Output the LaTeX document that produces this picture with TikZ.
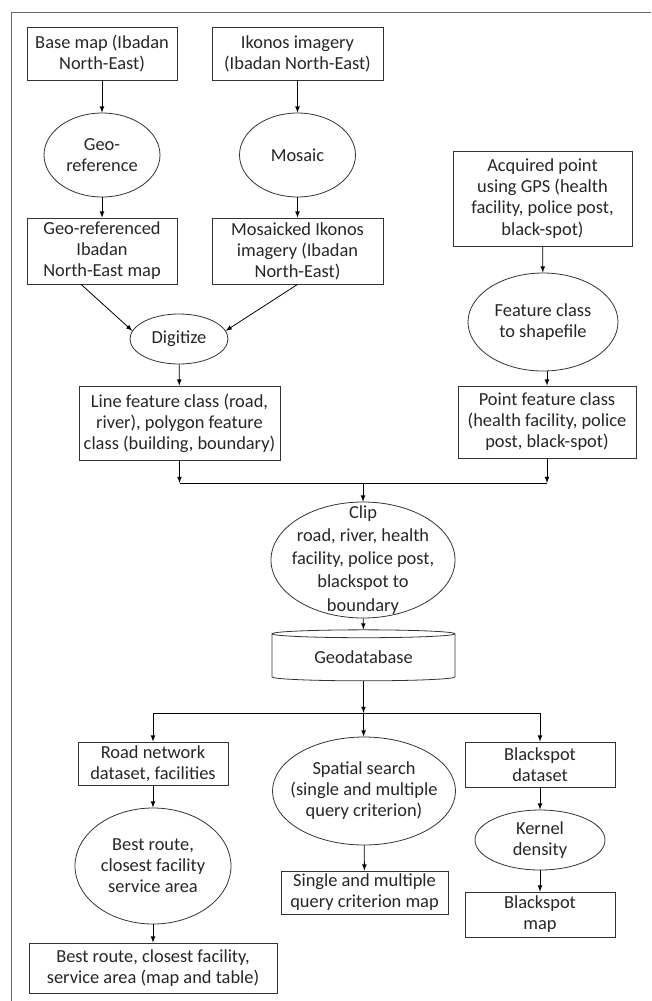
\documentclass[tikz,border=0pt]{standalone}
\usepackage{fontspec}
\setmainfont{Carlito}
\usepackage{tikz}
\usetikzlibrary{shapes.geometric}
\tikzset{>=latex}
\tikzset{sz/.style 2 args={minimum width=#1*0.75pt, minimum height=#2*0.75pt}}
\colorlet{myline}{black!80}
\colorlet{myframe}{black!60}

\begin{document}
\begin{tikzpicture}[
	x=0.75pt, y=-0.75pt,
	line width=0.6pt,
	every node/.style={font=\fontsize{13.8}{15.8}\selectfont, text=black!85},
	box/.style={draw=myline, inner sep=0pt, align=center},
	oval/.style={ellipse, draw=myline, inner sep=-40pt, align=center},
	dbase/.style={cylinder, shape border rotate=90, aspect=0.08, draw=myline, inner sep=0pt}
]
	\useasboundingbox (0,0) rectangle (651,1001);
	\draw[myframe] (11.7,1001) -- (11.7,12.5) -- (651,12.5);

	% digitizing branch
	\node[box, sz={150}{53}] (base) at (102,53.5) {Base map (Ibadan\\North-East)};
	\node[box, sz={171}{53}] (ikonos) at (297.5,53.5) {Ikonos imagery\\(Ibadan North-East)};
	\node[oval, sz={116}{84}] (georef) at (102,155) {Geo-\\reference};
	\node[oval, sz={116}{84}] (mosaic) at (297.5,155) {Mosaic};
	\node[box, sz={150}{66}] (georefmap) at (102,251) {Geo-referenced\\Ibadan\\North-East map};
	\node[box, sz={171}{66}] (mosaicmap) at (297.5,251) {Mosaicked Ikonos\\imagery (Ibadan\\North-East)};
	\node[oval, sz={98}{50}] (digitize) at (179,339) {Digitize};
	\node[box, sz={201}{74}] (lines) at (179.5,423) {Line feature class (road,\\river), polygon feature\\class (building, boundary)};

	% GPS branch
	\node[box, sz={179}{95}] (gps) at (542.5,198.5) {Acquired point\\using GPS (health\\facility, police post,\\black-spot)};
	\node[oval, sz={150}{98}] (shapefile) at (543,322) {Feature class\\to shapefile};
	\node[box, sz={178}{72}] (points) at (547,422) {Point feature class\\(health facility, police\\post, black-spot)};

	% clip and store
	\coordinate (join) at (363,483);
	\node[oval, sz={184}{116}, font=\fontsize{13.8}{17.3}\selectfont] (clip) at (363,560) {Clip\\road, river, health\\facility, police post,\\blackspot to\\boundary};
	\node[dbase, sz={183}{51}] (geodb) at (363.5,657.5) {Geodatabase};
	\coordinate (split) at (363.5,713);

	% analysis
	\node[box, sz={150}{43}] (network) at (153,763.5) {Road network\\dataset, facilities};
	\node[oval, sz={156}{116}] (route) at (153,866) {Best route,\\closest facility\\service area};
	\node[box, sz={248}{50}] (routemap) at (153,968) {Best route, closest facility,\\service area (map and table)};
	\node[oval, sz={183}{108}] (search) at (364,791) {Spatial search\\(single and multiple\\query criterion)};
	\node[box, sz={167}{43}] (querymap) at (364.5,892.5) {Single and multiple\\query criterion map};
	\node[box, sz={150}{45}] (blackspot) at (540,764.5) {Blackspot\\dataset};
	\node[oval, sz={130}{60}] (kernel) at (540,840) {Kernel\\density};
	\node[box, sz={150}{45}] (blackmap) at (540,914.5) {Blackspot\\map};

	% arrows
	\draw[->] (base) -- (georef);
	\draw[->] (ikonos) -- (mosaic);
	\draw[->] (georef) -- (georefmap);
	\draw[->] (mosaic) -- (mosaicmap);
	\draw[->] (georefmap.238) -- (digitize.170);
	\draw[->] (mosaicmap.south) -- (digitize.10);
	\draw[->] (digitize) -- (lines);
	\draw[->] (gps) -- (shapefile);
	\draw[->] (shapefile.south -| points) -- (points);
	\draw[->] (lines) -- (lines |- join);
	\draw[->] (points) -- (points |- join);
	\draw (lines |- join) -- (points |- join);
	\draw[->] (join) -- (clip);
	\draw[->] (clip) -- (geodb);
	\draw[->] (geodb) -- (split);
	\draw (network |- split) -- (blackspot |- split);
	\draw[->] (split) -- (search);
	\draw[->] (network |- split) -- (network);
	\draw[->] (blackspot |- split) -- (blackspot);
	\draw[->] (network) -- (route);
	\draw[->] (route) -- (routemap);
	\draw[->] (search) -- (querymap);
	\draw[->] (blackspot) -- (kernel);
	\draw[->] (kernel) -- (blackmap);
\end{tikzpicture}
\end{document}
